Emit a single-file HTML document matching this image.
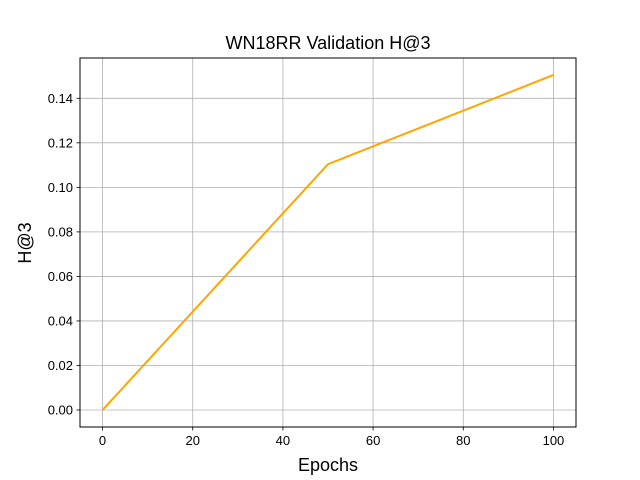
<!DOCTYPE html>
<html><head><meta charset="utf-8"><style>
body{margin:0;background:#fff;}
svg{display:block;font-family:"Liberation Sans","DejaVu Sans",sans-serif;}
</style></head><body>
<svg id="chart" width="640" height="480">
<rect x="0" y="0" width="640" height="480" fill="#fff"/>
<text x="328" y="49" font-size="18" text-anchor="middle">WN18RR Validation H@3</text>
<g id="grid"></g>
<g id="ticks"></g>
<polyline id="line" fill="none" stroke="#ffa500" stroke-width="2"/>
<rect x="80" y="58" width="496" height="369" fill="none" stroke="#000" stroke-width="1"/>
<text x="328" y="471" font-size="18" text-anchor="middle">Epochs</text>
<text x="31" y="243" font-size="18" text-anchor="middle" transform="rotate(-90 31 243)">H@3</text>
</svg>
<script>
const epochs=[0,50,100];
const h3=[0,0.1104,0.1505];
const xTicks=[0,20,40,60,80,100];
const yTicks=[0,0.02,0.04,0.06,0.08,0.10,0.12,0.14];
const yTickLabels=["0.00","0.02","0.04","0.06","0.08","0.10","0.12","0.14"];
const L=80,R=576,T=58,B=427;
const xMin=-5,xMax=105,yMin=-0.00763,yMax=0.1581;
const xs=v=>L+(v-xMin)/(xMax-xMin)*(R-L);
const ys=v=>B-(v-yMin)/(yMax-yMin)*(B-T);
const NS="http://www.w3.org/2000/svg";
const grid=document.getElementById('grid'),ticks=document.getElementById('ticks');
function mk(tag,attrs,parent){const e=document.createElementNS(NS,tag);for(const k in attrs)e.setAttribute(k,attrs[k]);parent.appendChild(e);return e;}
xTicks.forEach(v=>{const x=xs(v);
 const g=mk('line',{x1:x,x2:x,y1:T,y2:B,stroke:'#b0b0b0','stroke-width':0.8},grid);
 
 
 mk('line',{x1:x,x2:x,y1:B,y2:B+3.5,stroke:'#000','stroke-width':0.8},ticks);
 const t=mk('text',{x:x,y:B+18,'font-size':13,'text-anchor':'middle'},ticks);t.textContent=v;
 
 
});
yTicks.forEach((v,i)=>{const y=ys(v);
 const g=mk('line',{x1:L,x2:R,y1:y,y2:y,stroke:'#b0b0b0','stroke-width':0.8},grid);
 
 
 mk('line',{x1:L-3.5,x2:L,y1:y,y2:y,stroke:'#000','stroke-width':0.8},ticks);
 const t=mk('text',{x:L-7,y:y+4.5,'font-size':13,'text-anchor':'end'},ticks);t.textContent=yTickLabels[i];
 
 
});
document.getElementById('line').setAttribute('points',epochs.map((e,i)=>xs(e)+','+ys(h3[i])).join(' '));
</script>
</body></html>
